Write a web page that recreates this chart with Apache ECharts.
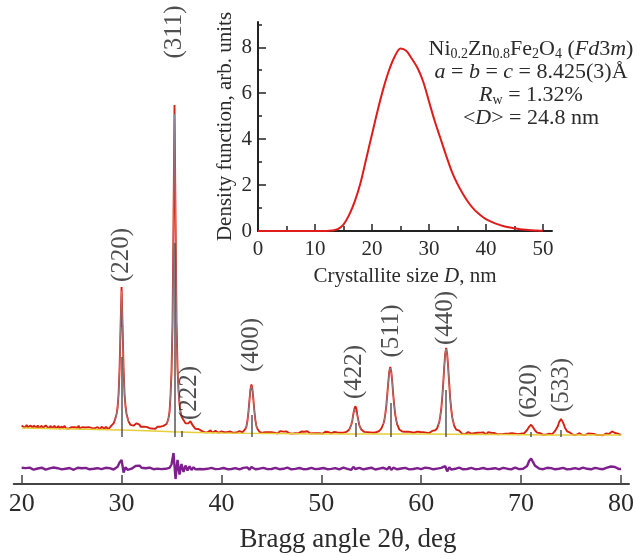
<!DOCTYPE html>
<html><head><meta charset="utf-8">
<script src="https://cdn.jsdelivr.net/npm/echarts@6/dist/echarts.min.js"></script>
<style>html,body{margin:0;padding:0;background:#fff}#c{width:637px;height:556px}</style>
</head><body><div id="c"></div>
<script>
// ---------- main pattern: observed intensity, 2theta from 20.0 step 0.1 ----------
const obsStart = 20.0, obsStep = 0.1;
const observed = [
58.6,56.9,58.1,56.2,57.8,59.0,56.7,57.4,55.9,58.3,
57.2,55.8,58.4,56.6,57.9,56.1,58.7,55.7,57.3,56.4,
58.2,56.0,57.1,55.4,58.5,56.8,57.6,55.9,56.9,58.0,
55.8,57.4,56.1,58.2,55.5,57.0,56.3,57.9,55.2,56.8,
57.7,55.6,56.9,58.1,55.9,56.4,57.8,55.3,57.2,56.0,
56.9,58.0,55.4,56.7,57.5,55.8,56.2,58.3,55.6,57.1,
55.9,56.8,57.6,54.9,56.5,57.2,55.3,56.9,55.7,57.4,
56.1,54.8,57.3,55.6,56.7,55.2,57.0,55.9,54.7,56.6,
57.2,55.4,56.0,54.9,57.1,55.7,56.3,55.0,56.8,55.5,
58.6,60.3,60.7,63.1,65.0,70.1,76.5,89.8,115.5,157.5,
197,157,115,89,77,70,65.9,62.4,61.3,59.1,
59.4,57.9,58.3,58.0,59.8,60.7,62.2,60.5,59.3,57.2,
56.8,55.9,57.3,55.6,56.7,57.1,55.4,56.5,55.8,57.0,
56.2,55.5,57.0,56.0,55.3,56.9,57.4,55.9,56.6,57.3,
57.0,56.4,58.1,57.6,59.3,60.0,62.5,66.0,72.0,88.0,
112,160,265,379,268,163,116,93,80,72.5,
67.5,66.8,64.1,62.9,60.6,60.2,59.1,60.8,61.7,62.9,
60.6,59.4,57.6,57.3,55.2,55.6,54.1,55.0,53.4,54.2,
53.1,52.0,53.4,51.8,52.7,53.5,51.6,52.9,52.2,53.6,
52.0,51.3,52.8,51.5,53.1,51.9,52.4,51.2,52.9,51.7,
52.6,51.4,53.0,51.8,51.1,52.7,52.1,53.2,51.3,52.5,
51.6,52.9,51.2,52.3,53.1,51.5,52.0,51.0,52.8,51.9,
52.4,51.6,53.0,52.9,55.1,57.6,63.0,72.0,83.5,94.5,
99.5,95.0,84.0,72.5,63.4,58.0,55.3,53.6,52.2,52.8,
52.6,51.2,52.9,50.8,51.7,52.4,50.9,51.9,52.7,50.6,
51.8,52.5,50.7,51.4,52.8,51.1,50.5,52.2,51.6,52.9,
50.9,51.7,52.4,50.6,51.3,52.6,51.0,51.9,50.7,52.3,
51.5,50.4,52.1,51.8,50.8,52.7,51.2,50.6,52.0,51.4,
52.5,50.9,51.6,52.2,50.5,51.3,52.8,51.0,51.7,50.6,
51.9,52.4,50.8,51.5,52.6,50.7,51.2,52.1,50.9,51.8,
51.6,50.3,51.9,50.8,52.2,50.5,51.4,52.0,50.2,51.7,
50.6,51.8,50.4,52.1,51.0,50.3,51.6,52.3,50.7,51.3,
51.9,50.6,51.4,52.0,51.8,52.1,52.6,53.4,54.5,56.4,
59.4,63.3,69.8,75.0,77.8,75.6,69.0,64.1,58.7,56.8,
54.5,53.4,52.6,52.1,51.8,50.7,51.9,52.3,50.5,51.6,
52.0,50.6,51.3,52.4,50.8,51.7,50.4,52.7,53.2,53.9,
55.3,56.6,60.0,63.2,69.8,77.7,89.6,101.5,112.6,117,
112.2,102.1,89.0,78.4,69.2,63.8,59.3,57.2,54.6,54.3,
53.1,52.4,52.9,51.5,52.3,50.9,51.8,52.4,50.6,51.5,
51.9,50.7,52.2,51.3,50.5,51.8,52.4,50.9,51.6,52.0,
51.2,50.3,51.9,50.6,52.0,51.4,50.2,51.7,50.9,52.1,
51.8,53.1,52.4,53.6,53.7,55.2,55.8,59.0,61.7,67.5,
74.5,86.2,100.0,116.8,130.2,136,129.7,116.3,100.6,85.6,
75.1,66.9,62.4,58.3,56.5,54.4,54.3,52.7,53.3,52.0,
51.3,50.1,51.8,50.5,49.9,51.6,50.8,51.9,50.2,51.1,
50.4,51.7,49.8,50.9,51.5,50.0,51.2,50.6,49.7,51.4,
50.8,49.9,51.6,50.3,51.1,49.6,50.7,51.8,50.1,50.5,
51.3,50.2,49.7,51.0,50.6,51.7,49.8,50.4,51.2,49.9,
50.7,51.4,50.0,49.5,51.1,50.3,51.6,49.8,50.5,51.0,
49.9,50.8,51.3,49.6,50.4,51.1,50.0,49.7,51.2,50.6,
50.4,49.6,51.0,50.7,51.5,52.2,54.0,55.0,57.2,58.1,
59.3,58.2,56.6,55.4,53.5,52.7,51.4,51.5,50.2,50.9,
49.6,50.5,49.2,50.8,49.9,49.4,50.6,49.1,50.3,49.8,
50.5,49.7,51.2,51.6,53.1,54.0,56.4,58.5,61.8,63.8,
65.0,64.2,61.4,58.9,56.0,54.4,52.7,52.3,50.9,51.3,
49.8,50.6,49.3,50.9,50.1,49.0,50.4,49.6,50.8,49.5,
50.2,49.1,49.9,50.7,48.9,50.3,49.6,50.5,49.2,49.8,
50.4,48.8,49.7,50.1,49.3,50.6,48.9,49.5,50.2,49.0,
49.6,50.3,48.7,49.9,49.2,50.5,49.4,48.8,50.0,50.7,
51.5,52.6,52.9,52.1,51.0,50.2,49.6,50.4,49.3,49.8,
48.8
];

// difference curve, 2theta from 20.0 step 0.2
const diffStart = 20.0, diffStep = 0.2;
const difference = [
16.2,14.8,15.9,14.6,16.4,15.1,14.3,16.0,15.5,14.7,
16.3,15.0,14.4,16.1,15.6,14.9,16.5,14.5,15.8,15.2,
14.6,16.2,15.3,14.8,16.0,15.4,14.2,15.9,16.3,14.9,
15.7,14.5,16.1,15.0,14.7,16.4,15.2,14.6,15.8,16.0,
14.8,15.5,16.2,14.4,15.9,15.1,14.5,16.0,17.2,21.5,
24.0,11.5,16.8,14.2,16.0,15.3,16.5,18.0,19.8,18.4,
16.2,15.0,15.8,14.6,16.3,15.1,14.8,16.0,15.4,16.1,
14.9,16.3,15.2,17.0,16.2,19.5,31.0,5.0,24.0,9.5,
20.0,12.0,18.5,13.5,17.6,14.0,16.8,14.6,16.2,15.0,
15.8,14.7,16.3,15.2,14.6,16.1,15.4,14.9,16.4,15.1,
14.5,16.0,15.6,14.8,16.2,15.0,14.4,15.9,16.3,14.7,
15.5,16.1,14.9,16.6,14.2,17.0,15.1,14.8,16.0,15.3,
14.6,16.2,15.4,14.9,16.5,15.0,14.3,16.1,15.7,14.8,
16.0,15.2,14.5,16.3,15.6,14.7,16.2,15.1,14.4,16.0,
15.5,14.8,16.4,15.0,14.6,16.2,15.3,14.9,16.1,15.2,
14.5,16.0,15.7,14.8,16.6,15.1,14.4,15.9,16.2,14.7,
15.6,16.3,14.9,15.2,16.4,14.1,17.2,15.0,14.8,16.1,
15.3,14.6,16.2,15.5,14.9,16.3,15.0,14.5,16.1,15.4,
14.8,16.2,15.3,14.6,17.4,14.0,16.3,15.1,14.7,16.0,
15.5,14.9,16.1,15.2,14.6,16.4,15.0,14.7,15.9,16.2,
14.8,15.6,16.3,14.5,15.9,15.1,14.7,16.2,15.4,14.9,
16.1,15.0,17.8,12.6,16.8,14.4,16.0,15.2,14.8,16.3,
15.4,14.7,16.2,15.0,14.5,16.1,15.7,14.8,16.3,15.1,
14.6,16.0,15.5,14.9,16.4,15.2,14.5,15.8,16.1,14.7,
15.6,16.2,14.8,15.3,16.0,14.6,15.1,16.3,15.4,14.9,
15.8,15.2,16.3,18.0,23.0,25.5,21.8,18.2,16.5,15.4,
16.0,14.8,15.5,16.2,14.6,15.9,15.1,14.7,16.3,15.3,
14.8,16.1,15.4,14.6,16.3,15.0,14.5,15.9,16.2,14.9,
15.6,16.4,14.8,15.2,16.0,14.7,15.5,16.2,14.9,15.3,
16.1,14.8,15.6,16.3,15.0,17.5,18.4,17.0,16.0,14.9,
15.3
];

// background
const bgAngles = [20,25,30,35,40,45,50,55,60,65,70,75,80];
const bgValues = [56,55,54,52.3,51,50.4,50.1,50,50,49.6,49.2,49,48.9];

// calculated profile near reflections (start angle, step 0.1)
const calcStarts = [29.3, 34.5, 42.4, 52.8, 56.2, 61.7];
const calcValues = [
  [62.6,65.4,69.7,76.8,89.5,115.5,157.5,193,157.5,115.5,89.5,76.8,69.7,65.4,62.6],
  [60.5,62.8,66.0,72.5,88.5,112,160,262,370,266,162,116,93,80,72.5,68,66.5],
  [55.5,57.8,63.2,72.2,83.8,94.6,98.0,94.8,84.1,72.6,63.5,58.1,55.4],
  [54.3,56.2,59.1,63.5,69.5,75.1,77.0,75.3,69.2,63.9,58.9,56.6,54.4],
  [59.8,63.3,69.6,77.8,89.4,101.6,112.4,116,112.3,101.9,89.2,78.2,69.4,63.6,59.5],
  [58.8,61.9,67.4,74.6,86.0,100.2,116.6,130.0,135,129.8,116.4,100.4,85.8,74.9,67.1,62.2,58.6]
];

// Bragg position markers
const braggAngles = [30.0, 35.3, 36.0, 43.0, 53.4, 56.9, 62.5, 71.0, 74.0];
const braggTops   = [127, 241, 53, 69, 61, 81, 94, 52, 54];
const braggBase   = 47;

// reflection labels
const hklLabels  = ['(220)','(311)','(222)','(400)','(422)','(511)','(440)','(620)','(533)'];
const hklAngles  = [29.95, 35.3, 36.8, 43.0, 53.3, 57.0, 62.4, 70.85, 74.0];
const hklHeights = [229, 452, 91, 139, 112, 153, 166, 93, 99];

const xTicks = [20,30,40,50,60,70,80];
const xTitle = 'Bragg angle 2θ, deg';

// inset: size distribution
const sizeNm = [0,1,2,3,4,5,6,7,8,9,10,11,12,13,14,15,16,17,18,19,20,21,22,23,24,25,26,27,28,29,30,31,32,33,34,35,36,37,38,39,40,41,42,43,44,45,46,47,48,49,50];
const density = [0,0,0,0,0,0,0,0,0,0,0,0,0,0.02,0.08,0.28,0.7,1.3,2.1,3.15,4.2,5.25,6.2,7.0,7.6,7.95,7.85,7.5,7.1,6.5,5.65,4.8,4.05,3.3,2.6,2.05,1.6,1.22,0.92,0.7,0.52,0.4,0.3,0.22,0.16,0.12,0.08,0.05,0.03,0.02,0.01];
const insetXTicks = [0,10,20,30,40,50];
const insetXMinor = [5,15,25,35,45];
const insetYTicks = [0,2,4,6,8];
const insetYMinor = [1,3,5,7,9];

const annotation = [
  'Ni{sub|0.2}Zn{sub|0.8}Fe{sub|2}O{sub|4} ({i|Fd}3{i|m})',
  '{i|a} = {i|b} = {i|c} = 8.425(3)Å',
  '{i|R}{sub|w} = 1.32%',
  '<{i|D}> = 24.8 nm'
];

// ---------- build ----------
const SERIF = '"Liberation Serif","Times New Roman",serif';
const TXT = '#2b2b2b';
const obsData = observed.map((v, i) => [+(obsStart + i * obsStep).toFixed(2), v]);
const diffData = difference.map((v, i) => [+(diffStart + i * diffStep).toFixed(2), v]);
const bgData = bgAngles.map((a, i) => [a, bgValues[i]]);
const calcData = [];
calcStarts.forEach((s, k) => {
  calcValues[k].forEach((v, i) => calcData.push([+(s + i * 0.1).toFixed(2), v]));
  calcData.push([s + calcValues[k].length * 0.1, '-']);
});
const stickData = braggAngles.map((a, i) => ({coords: [[a, braggBase], [a, braggTops[i]]]}));
const labelData = hklLabels.map((n, i) => ({name: n, value: [hklAngles[i], hklHeights[i]]}));
const densData = sizeNm.map((s, i) => [s, density[i]]);

const chart = echarts.init(document.getElementById('c'), null, {renderer: 'canvas'});
chart.setOption({
  animation: false,
  backgroundColor: '#fff',
  grid: [
    {left: 13.7, right: 6.3, top: 0, bottom: 72},
    {left: 258, width: 294, top: 22, height: 209}
  ],
  xAxis: [
    {gridIndex: 0, type: 'value', min: 19.2, max: 80.8, position: 'bottom',
     axisLine: {lineStyle: {color: '#444', width: 2}},
     axisTick: {inside: true, length: 9, customValues: xTicks, lineStyle: {color: '#444', width: 1.5}},
     axisLabel: {customValues: xTicks, fontFamily: SERIF, fontSize: 26, color: TXT, margin: 7},
     splitLine: {show: false}},
    {gridIndex: 1, type: 'value', min: 0, max: 51.6, position: 'bottom',
     axisLine: {lineStyle: {color: '#222', width: 2}},
     axisTick: {inside: true, length: 7, customValues: insetXTicks, lineStyle: {color: '#222', width: 1.5}},
     axisLabel: {customValues: insetXTicks, fontFamily: SERIF, fontSize: 21, color: TXT, margin: 8},
     splitLine: {show: false},
     name: 'Crystallite size {i|D}, nm', nameLocation: 'middle', nameGap: 35,
     nameTextStyle: {fontFamily: SERIF, fontSize: 21, color: TXT,
       rich: {i: {fontFamily: SERIF, fontSize: 21, fontStyle: 'italic', color: TXT}}}},
    {gridIndex: 1, type: 'value', min: 0, max: 51.6, position: 'bottom',
     axisLine: {show: false},
     axisTick: {inside: true, length: 5, customValues: insetXMinor, lineStyle: {color: '#222', width: 1.5}},
     axisLabel: {show: false}, splitLine: {show: false}}
  ],
  yAxis: [
    {gridIndex: 0, type: 'value', min: 0, max: 484, show: false},
    {gridIndex: 1, type: 'value', min: 0, max: 9.1, position: 'left',
     axisLine: {show: true, lineStyle: {color: '#222', width: 2}},
     axisTick: {show: true, inside: true, length: 8, customValues: insetYTicks, lineStyle: {color: '#222', width: 1.5}},
     axisLabel: {customValues: insetYTicks, fontFamily: SERIF, fontSize: 21, color: TXT, margin: 6},
     splitLine: {show: false},
     name: 'Density function, arb. units', nameLocation: 'middle', nameGap: 22,
     nameTextStyle: {fontFamily: SERIF, fontSize: 21, color: TXT}},
    {gridIndex: 1, type: 'value', min: 0, max: 9.1, position: 'left',
     axisLine: {show: false},
     axisTick: {show: true, inside: true, length: 4, customValues: insetYMinor, lineStyle: {color: '#222', width: 1.5}},
     axisLabel: {show: false}, splitLine: {show: false}}
  ],
  series: [
    {type: 'line', name: 'obs', xAxisIndex: 0, yAxisIndex: 0, data: obsData, showSymbol: false,
     lineStyle: {color: '#d8200f', width: 1.9}, z: 2},
    {type: 'line', name: 'bg', xAxisIndex: 0, yAxisIndex: 0, data: bgData, showSymbol: false, smooth: 0.4,
     lineStyle: {color: '#e6cf3a', width: 1.5}, z: 3},
    {type: 'line', name: 'calc', xAxisIndex: 0, yAxisIndex: 0, data: calcData, showSymbol: false,
     connectNulls: false, lineStyle: {color: '#8a8a9c', width: 0.9}, z: 4},
    {type: 'lines', name: 'bragg', coordinateSystem: 'cartesian2d', xAxisIndex: 0, yAxisIndex: 0,
     data: stickData, lineStyle: {color: '#555', width: 1.5, opacity: 1}, z: 5},
    {type: 'line', name: 'diff', xAxisIndex: 0, yAxisIndex: 0, data: diffData, showSymbol: false,
     lineStyle: {color: '#7e1f8e', width: 2.4}, z: 2},
    {type: 'scatter', name: 'hkl', xAxisIndex: 0, yAxisIndex: 0, data: labelData, symbolSize: 0,
     label: {show: true, position: 'inside', rotate: 90, formatter: '{b}', fontFamily: SERIF, fontSize: 25,
             color: '#222', align: 'center', verticalAlign: 'middle'}, z: 6},
    {type: 'line', name: 'density', xAxisIndex: 1, yAxisIndex: 1, data: densData, showSymbol: false, smooth: 0.3,
     lineStyle: {color: '#e01b1b', width: 2}, z: 3}
  ],
  graphic: [
    {type: 'text', x: 348, y: 540, z: 10,
     style: {text: xTitle, align: 'center', verticalAlign: 'middle',
       fontFamily: SERIF, fontSize: 27, fill: TXT}},
    {type: 'text', x: 531, y: 38, z: 10,
     style: {text: annotation.join('\n'), align: 'center', verticalAlign: 'top',
       fontFamily: SERIF, fontSize: 22, lineHeight: 23, fill: TXT,
       rich: {
         sub: {fontFamily: SERIF, fontSize: 14, lineHeight: 7, verticalAlign: 'bottom', fill: TXT},
         i: {fontFamily: SERIF, fontSize: 22, fontStyle: 'italic', lineHeight: 23, fill: TXT}
       }}}
  ]
});
</script></body></html>
